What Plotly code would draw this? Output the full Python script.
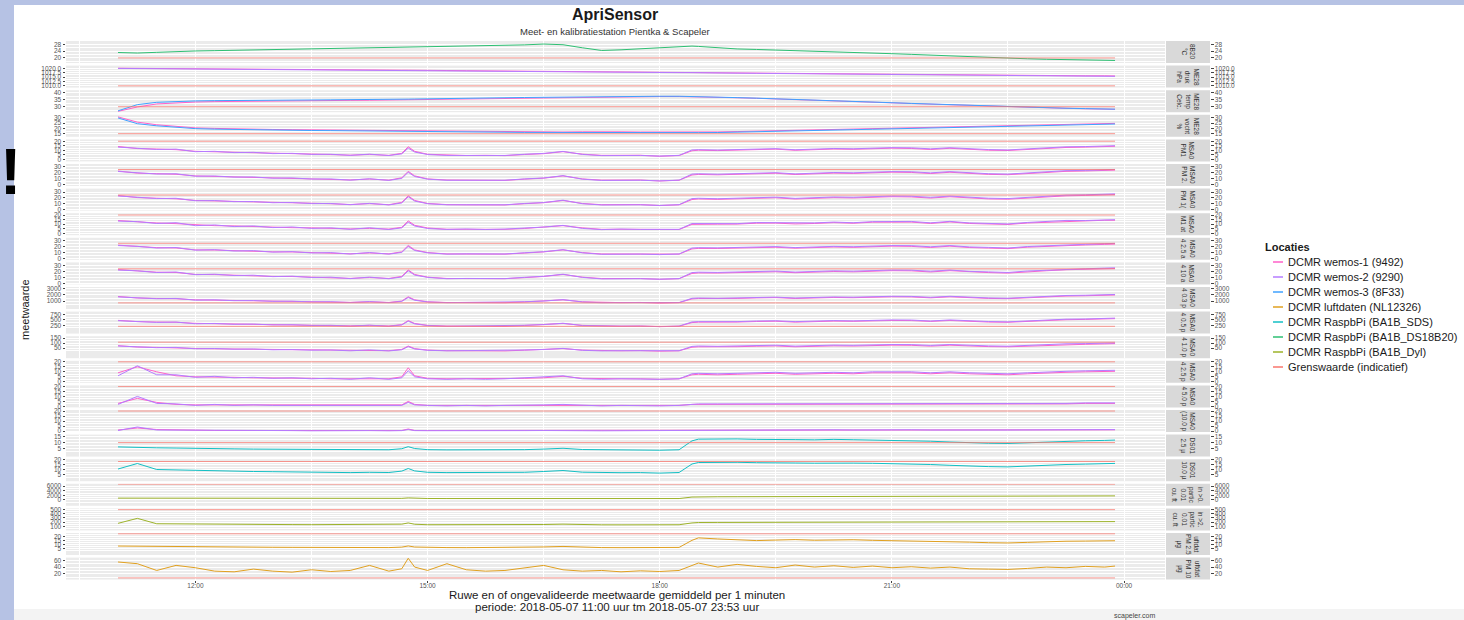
import plotly.graph_objects as go

W, H = 1464, 620

# ---------------- data ----------------
T_LABELS = [
    "11:00", "11:15", "11:30", "11:45", "12:00", "12:15", "12:30", "12:45", "13:00", "13:15", "13:30", "13:45", "14:00", "14:15",
    "14:30", "14:40", "14:45", "14:50", "15:00", "15:15", "15:30", "15:45", "16:00", "16:15", "16:30", "16:45", "17:00", "17:15",
    "17:30", "17:45", "18:00", "18:15", "18:25", "18:30", "18:45", "19:00", "19:15", "19:30", "19:45", "20:00", "20:15", "20:30",
    "20:45", "21:00", "21:15", "21:30", "21:45", "22:00", "22:15", "22:30", "22:45", "23:00", "23:15", "23:30", "23:45", "23:53"]
X = ["2018-05-07 " + t for t in T_LABELS]

X_TICKVALS = ["2018-05-07 12:00", "2018-05-07 15:00", "2018-05-07 18:00", "2018-05-07 21:00", "2018-05-08 00:00"]
X_TICKTEXT = ["12:00", "15:00", "18:00", "21:00", "00:00"]
X_MINOR = ["2018-05-07 10:30", "2018-05-07 13:30", "2018-05-07 16:30", "2018-05-07 19:30", "2018-05-07 22:30"]
X_RANGE = ["2018-05-07 10:19:40", "2018-05-08 00:31:45"]

DS18B20_TEMP = [
    23.2, 22.9, 23.3, 23.8, 24.1, 24.3, 24.5, 24.8, 25.0, 25.2, 25.3, 25.5, 25.6, 25.8,
    26.0, 26.1, 26.2, 26.2, 26.3, 26.5, 26.7, 27.0, 27.3, 27.7, 28.2, 27.8, 26.0, 24.4,
    24.8, 25.4, 26.1, 26.8, 27.0, 26.8, 25.9, 25.3, 25.0, 24.7, 24.4, 24.1, 23.7, 23.3,
    22.9, 22.5, 22.1, 21.6, 21.1, 20.6, 20.2, 19.8, 19.5, 19.2, 19.0, 18.8, 18.6, 18.5]

BME_DRUK_W1 = [
    1020.0, 1019.9, 1019.9, 1019.8, 1019.7, 1019.6, 1019.6, 1019.5, 1019.4, 1019.3, 1019.3, 1019.2, 1019.1, 1019.0,
    1018.9, 1018.9, 1018.9, 1018.8, 1018.8, 1018.7, 1018.6, 1018.5, 1018.5, 1018.4, 1018.3, 1018.2, 1018.1, 1018.0,
    1017.9, 1017.8, 1017.8, 1017.7, 1017.6, 1017.6, 1017.5, 1017.4, 1017.3, 1017.2, 1017.1, 1017.0, 1016.9, 1016.8,
    1016.7, 1016.6, 1016.5, 1016.4, 1016.3, 1016.2, 1016.1, 1016.0, 1015.9, 1015.9, 1015.8, 1015.7, 1015.7, 1015.6]
BME_DRUK_W2 = [
    1019.9, 1019.8, 1019.7, 1019.7, 1019.6, 1019.5, 1019.4, 1019.4, 1019.3, 1019.2, 1019.1, 1019.0, 1019.0, 1018.9,
    1018.8, 1018.7, 1018.7, 1018.7, 1018.6, 1018.5, 1018.5, 1018.4, 1018.3, 1018.2, 1018.1, 1018.0, 1018.0, 1017.9,
    1017.8, 1017.7, 1017.6, 1017.5, 1017.5, 1017.4, 1017.3, 1017.2, 1017.1, 1017.0, 1016.9, 1016.8, 1016.7, 1016.6,
    1016.5, 1016.4, 1016.3, 1016.2, 1016.1, 1016.0, 1015.9, 1015.8, 1015.8, 1015.7, 1015.6, 1015.6, 1015.5, 1015.4]

BME_TEMP_W1 = [
    26.6, 29.8, 32.0, 32.9, 33.4, 33.7, 33.9, 34.1, 34.2, 34.3, 34.4, 34.5, 34.6, 34.7,
    34.9, 35.0, 35.1, 35.2, 35.4, 35.6, 35.7, 36.0, 36.2, 36.4, 36.6, 36.7, 36.8, 36.8,
    37.0, 37.2, 37.4, 37.4, 37.3, 37.2, 36.9, 36.5, 36.1, 35.7, 35.3, 34.9, 34.5, 34.1,
    33.3, 32.8, 32.3, 31.8, 31.3, 30.8, 30.3, 29.9, 29.5, 29.1, 28.8, 28.5, 28.3, 28.1]
BME_TEMP_W3 = [
    27.0, 31.5, 33.2, 33.8, 34.2, 34.4, 34.6, 34.7, 34.8, 34.8, 34.9, 35.0, 35.0, 35.1,
    35.3, 35.4, 35.5, 35.6, 35.8, 35.9, 36.0, 36.3, 36.5, 36.7, 36.9, 37.0, 37.1, 37.0,
    37.3, 37.5, 37.6, 37.6, 37.5, 37.4, 37.0, 36.6, 36.2, 35.8, 35.4, 35.0, 34.6, 34.2,
    33.4, 32.9, 32.4, 31.9, 31.4, 30.9, 30.4, 30.0, 29.6, 29.2, 28.9, 28.6, 28.4, 28.2]

BME_VOCHT_W1 = [
    31.0, 26.0, 23.5, 22.0, 20.5, 20.0, 19.5, 19.2, 19.0, 18.8, 18.6, 18.5, 18.4, 18.2,
    18.0, 17.9, 17.9, 17.8, 17.7, 17.5, 17.4, 17.2, 17.0, 16.8, 16.7, 16.6, 16.8, 17.0,
    16.8, 16.6, 16.5, 16.5, 16.5, 16.6, 16.7, 17.0, 17.4, 17.8, 18.2, 18.6, 19.0, 19.4,
    19.8, 20.2, 20.6, 21.0, 21.4, 21.8, 22.2, 22.6, 23.0, 23.4, 23.8, 24.2, 24.6, 24.8]
BME_VOCHT_W3 = [
    30.0, 24.5, 22.5, 21.2, 19.8, 19.3, 18.9, 18.6, 18.4, 18.2, 18.0, 17.9, 17.8, 17.6,
    17.4, 17.3, 17.3, 17.2, 17.1, 16.9, 16.8, 16.6, 16.4, 16.2, 16.1, 16.0, 16.2, 16.4,
    16.2, 16.0, 15.9, 15.9, 15.9, 16.0, 16.1, 16.4, 16.8, 17.2, 17.6, 18.0, 18.4, 18.8,
    19.2, 19.6, 20.0, 20.4, 20.8, 21.2, 21.6, 22.0, 22.4, 22.8, 23.2, 23.6, 24.0, 24.2]

PMS_PM1_W1 = [
    14.3, 12.0, 11.5, 10.8, 9.0, 8.6, 8.0, 7.5, 6.8, 6.4, 5.9, 5.5, 4.8, 5.6,
    4.6, 6.8, 14.0, 9.0, 5.8, 4.7, 4.4, 4.6, 4.3, 5.5, 6.4, 8.6, 5.9, 4.6,
    4.4, 4.7, 3.6, 4.4, 9.6, 10.2, 9.8, 10.3, 10.9, 11.4, 10.1, 11.0, 11.5, 11.2,
    12.0, 12.4, 12.1, 11.0, 12.3, 11.0, 10.2, 9.9, 11.1, 12.3, 13.2, 13.6, 14.1, 14.5]
PMS_PM1_W2 = [
    13.6, 12.6, 11.0, 11.4, 8.6, 9.0, 7.6, 7.9, 6.5, 6.8, 5.6, 5.8, 4.6, 5.9,
    4.4, 6.2, 12.5, 8.2, 5.5, 4.5, 4.6, 4.4, 4.5, 5.8, 6.7, 8.9, 5.6, 4.3,
    4.5, 4.5, 3.8, 4.6, 10.5, 10.8, 10.4, 10.8, 11.6, 11.9, 10.7, 11.6, 12.1, 11.8,
    12.6, 13.0, 12.8, 11.7, 12.9, 11.6, 10.9, 10.5, 11.7, 12.9, 13.9, 14.2, 14.8, 15.1]

PMS_PM25_W1 = [
    22.5, 19.0, 18.2, 17.2, 14.5, 13.8, 13.0, 12.3, 11.2, 10.6, 9.8, 9.2, 7.9, 9.4,
    7.6, 11.4, 22.0, 14.6, 9.6, 7.8, 7.4, 7.7, 7.2, 9.2, 10.8, 14.5, 9.6, 7.6,
    7.3, 7.8, 6.2, 7.4, 16.0, 16.9, 16.3, 17.1, 18.2, 18.9, 16.8, 18.3, 19.1, 18.6,
    20.0, 20.6, 20.2, 18.4, 20.5, 18.3, 17.0, 16.5, 18.5, 20.5, 22.0, 22.6, 23.4, 24.0]
PMS_PM25_W2 = [
    21.8, 20.2, 17.6, 18.0, 14.0, 14.4, 12.6, 12.8, 10.8, 11.2, 9.4, 9.6, 7.6, 9.8,
    7.2, 10.4, 20.5, 13.5, 9.2, 7.4, 7.6, 7.3, 7.4, 9.6, 11.1, 14.9, 9.2, 7.1,
    7.4, 7.4, 6.4, 7.6, 17.5, 18.0, 17.3, 18.0, 19.3, 19.8, 17.8, 19.3, 20.1, 19.6,
    21.0, 21.6, 21.3, 19.5, 21.5, 19.3, 18.1, 17.5, 19.5, 21.5, 23.1, 23.6, 24.6, 25.1]

PMS_PM10_W1 = [
    24.0, 20.5, 19.4, 18.4, 15.5, 14.8, 13.9, 13.2, 12.0, 11.4, 10.5, 9.9, 8.5, 10.1,
    8.2, 12.2, 23.5, 15.6, 10.3, 8.4, 8.0, 8.3, 7.8, 9.9, 11.6, 15.5, 10.3, 8.2,
    7.9, 8.4, 6.7, 8.0, 17.1, 18.1, 17.4, 18.3, 19.5, 20.2, 18.0, 19.6, 20.4, 19.9,
    21.4, 22.0, 21.6, 19.7, 21.9, 19.6, 18.2, 17.7, 19.8, 21.9, 23.5, 24.2, 25.0, 25.7]
PMS_PM10_W2 = [
    23.3, 21.6, 18.8, 19.3, 15.0, 15.4, 13.5, 13.7, 11.6, 12.0, 10.1, 10.3, 8.2, 10.5,
    7.8, 11.2, 21.9, 14.5, 9.9, 8.0, 8.2, 7.9, 8.0, 10.3, 11.9, 16.0, 9.9, 7.7,
    8.0, 8.0, 6.9, 8.2, 18.7, 19.3, 18.5, 19.3, 20.6, 21.2, 19.1, 20.7, 21.5, 21.0,
    22.5, 23.1, 22.8, 20.9, 23.0, 20.7, 19.4, 18.8, 20.9, 23.0, 24.7, 25.3, 26.3, 26.9]

PMS_PM1ATM_W1 = [
    14.0, 12.3, 11.3, 10.6, 9.2, 8.4, 8.1, 7.3, 6.9, 6.2, 6.0, 5.3, 4.9, 5.4,
    4.7, 6.6, 13.6, 8.8, 5.9, 4.5, 4.5, 4.4, 4.4, 5.3, 6.5, 8.4, 6.0, 4.4,
    4.5, 4.5, 3.7, 4.2, 9.8, 10.0, 10.0, 10.1, 11.1, 11.2, 10.3, 10.8, 11.7, 11.0,
    12.2, 12.2, 12.3, 10.8, 12.5, 10.8, 10.4, 9.7, 11.3, 12.1, 13.4, 13.4, 14.3, 14.3]
PMS_PM1ATM_W2 = [
    13.4, 12.8, 10.8, 11.6, 8.4, 9.2, 7.4, 8.1, 6.3, 7.0, 5.4, 6.0, 4.4, 6.1,
    4.2, 6.0, 12.2, 8.0, 5.3, 4.3, 4.8, 4.2, 4.7, 5.6, 6.9, 8.7, 5.4, 4.1,
    4.7, 4.3, 4.0, 4.4, 10.7, 10.6, 10.6, 10.6, 11.8, 11.7, 10.9, 11.4, 12.3, 11.6,
    12.8, 12.8, 13.0, 11.5, 13.1, 11.4, 11.1, 10.3, 11.9, 12.7, 14.1, 14.0, 15.0, 14.9]

PMS_PM25ATM_W1 = [
    22.0, 19.4, 17.9, 17.4, 14.2, 14.0, 12.8, 12.5, 11.0, 10.8, 9.6, 9.4, 7.8, 9.2,
    7.7, 11.0, 21.5, 14.2, 9.8, 7.6, 7.5, 7.5, 7.3, 9.0, 10.9, 14.2, 9.8, 7.5,
    7.4, 7.6, 6.3, 7.3, 15.8, 16.6, 16.5, 16.8, 18.0, 18.6, 17.0, 18.0, 19.0, 18.4,
    19.8, 20.3, 20.0, 18.2, 20.3, 18.1, 17.2, 16.3, 18.7, 20.2, 21.8, 22.3, 23.2, 23.7]
PMS_PM25ATM_W2 = [
    21.3, 20.0, 17.3, 18.1, 13.8, 14.6, 12.4, 13.0, 10.6, 11.4, 9.2, 9.8, 7.5, 9.9,
    7.3, 10.1, 20.0, 13.2, 9.4, 7.3, 7.7, 7.2, 7.5, 9.5, 11.2, 14.6, 9.4, 7.0,
    7.5, 7.3, 6.5, 7.5, 17.2, 17.8, 17.5, 17.8, 19.1, 19.6, 18.0, 19.0, 20.0, 19.4,
    20.8, 21.3, 21.1, 19.3, 21.3, 19.1, 18.3, 17.3, 19.7, 21.2, 22.9, 23.3, 24.4, 24.8]

PMS_PM10ATM_W1 = [
    23.6, 20.8, 19.1, 18.6, 15.2, 15.0, 13.7, 13.4, 11.8, 11.6, 10.3, 10.1, 8.4, 9.9,
    8.3, 11.8, 23.0, 15.2, 10.5, 8.2, 8.1, 8.1, 7.9, 9.7, 11.7, 15.2, 10.5, 8.1,
    8.0, 8.2, 6.8, 7.9, 16.9, 17.8, 17.6, 18.0, 19.3, 19.9, 18.2, 19.3, 20.3, 19.7,
    21.2, 21.7, 21.4, 19.5, 21.7, 19.4, 18.4, 17.5, 20.0, 21.6, 23.3, 23.9, 24.8, 25.4]
PMS_PM10ATM_W2 = [
    22.8, 21.4, 18.5, 19.4, 14.8, 15.6, 13.3, 13.9, 11.4, 12.2, 9.9, 10.5, 8.0, 10.6,
    7.8, 10.8, 21.4, 14.1, 10.1, 7.8, 8.3, 7.7, 8.0, 10.2, 12.0, 15.6, 10.1, 7.5,
    8.0, 7.8, 7.0, 8.0, 18.4, 19.1, 18.7, 19.1, 20.4, 21.0, 19.3, 20.3, 21.4, 20.8,
    22.3, 22.8, 22.6, 20.7, 22.8, 20.5, 19.6, 18.6, 21.1, 22.7, 24.5, 25.0, 26.1, 26.6]

PMS_N03_W1 = [
    1750, 1500, 1420, 1380, 1200, 1150, 1100, 1050, 980, 940, 900, 860, 780, 880,
    770, 1000, 1700, 1200, 880, 760, 740, 760, 730, 860, 980, 1200, 880, 760,
    740, 770, 660, 740, 1350, 1420, 1380, 1430, 1520, 1570, 1420, 1520, 1590, 1550,
    1660, 1700, 1680, 1530, 1700, 1520, 1430, 1390, 1550, 1700, 1820, 1870, 1940, 1990]
PMS_N03_W2 = [
    1680, 1580, 1380, 1430, 1150, 1200, 1060, 1090, 950, 980, 870, 890, 760, 910,
    740, 940, 1580, 1130, 850, 740, 760, 740, 750, 890, 1000, 1230, 850, 730,
    750, 750, 680, 760, 1450, 1500, 1450, 1500, 1600, 1640, 1500, 1600, 1670, 1630,
    1740, 1780, 1760, 1610, 1780, 1600, 1510, 1460, 1630, 1780, 1910, 1950, 2030, 2080]

PMS_N05_W1 = [
    480, 420, 400, 390, 340, 325, 310, 295, 275, 265, 250, 240, 220, 245,
    215, 280, 470, 335, 245, 210, 205, 210, 200, 240, 275, 335, 245, 210,
    205, 215, 185, 205, 375, 395, 385, 400, 425, 440, 395, 425, 445, 435,
    465, 475, 470, 430, 475, 425, 400, 390, 435, 475, 510, 525, 545, 560]
PMS_N05_W2 = [
    465, 440, 385, 400, 320, 335, 295, 305, 265, 275, 240, 250, 212, 255,
    205, 265, 440, 315, 235, 205, 210, 205, 210, 250, 280, 345, 235, 205,
    210, 210, 190, 212, 405, 420, 405, 420, 450, 460, 420, 450, 470, 455,
    490, 500, 495, 450, 500, 450, 425, 410, 455, 500, 535, 545, 570, 585]

PMS_N10_W1 = [
    75, 62, 58, 56, 47, 44, 42, 40, 36, 34, 32, 30, 26, 31,
    25, 38, 72, 46, 31, 25, 24, 25, 23, 30, 36, 46, 31, 25,
    24, 26, 20, 24, 60, 64, 62, 65, 70, 73, 64, 70, 74, 72,
    78, 80, 79, 71, 80, 71, 66, 64, 72, 80, 86, 89, 93, 96]
PMS_N10_W2 = [
    72, 66, 55, 58, 44, 47, 40, 42, 34, 36, 30, 32, 24, 33,
    23, 34, 66, 42, 29, 24, 25, 24, 24, 32, 37, 48, 29, 23,
    25, 24, 21, 25, 68, 72, 69, 72, 77, 80, 71, 77, 81, 79,
    85, 87, 86, 78, 87, 78, 73, 70, 79, 87, 94, 96, 100, 103]

PMS_N25_W1 = [
    9, 15, 10, 6, 5, 5, 4.5, 4, 4, 3.5, 3.5, 3, 3, 3.5,
    3, 5, 14, 6, 3.5, 3, 3, 3, 3, 3.5, 4, 5.5, 3.5, 3,
    3, 3, 2.5, 3, 7, 7.5, 7, 7.5, 8, 8.5, 7.5, 8, 8.5, 8,
    9, 9, 9, 8, 9, 8, 7.5, 7, 8, 9, 9.5, 10, 10.5, 10.5]
PMS_N25_W2 = [
    6, 16, 7, 7, 4.5, 5.5, 4, 4.5, 3.5, 4, 3, 3.5, 2.5, 4,
    2.5, 4, 11, 5, 3, 2.5, 3, 2.5, 3, 4, 4.5, 6, 3, 2.5,
    3, 2.5, 2.5, 3, 8, 8.5, 8, 8.5, 9, 9.5, 8.5, 9, 9.5, 9,
    10, 10, 10, 9, 10, 9, 8.5, 8, 9, 10, 10.5, 11, 11.5, 11.5]

PMS_N50_W1 = [
    3, 8, 4, 2, 1.5, 1.5, 1.5, 1, 1, 1, 1, 1, 1, 1,
    1, 1.5, 5, 2, 1, 1, 1, 1, 1, 1, 1, 1.5, 1, 1,
    1, 1, 1, 1, 2, 2, 2, 2, 2, 2.5, 2, 2, 2.5, 2,
    2.5, 2.5, 2.5, 2, 2.5, 2, 2, 2, 2, 2.5, 2.5, 3, 3, 3]
PMS_N50_W2 = [
    2, 10, 3, 2.5, 1, 2, 1, 1.5, 1, 1, 0.5, 1, 0.5, 1,
    0.5, 1, 4, 1.5, 1, 0.5, 1, 0.5, 1, 1, 1.5, 2, 1, 0.5,
    1, 0.5, 0.5, 1, 2.5, 2.5, 2.5, 2.5, 2.5, 3, 2.5, 2.5, 3, 2.5,
    3, 3, 3, 2.5, 3, 2.5, 2.5, 2.5, 2.5, 3, 3, 3.5, 3.5, 3.5]

PMS_N100_W1 = [
    1, 3, 1.5, 1, 0.5, 0.5, 0.5, 0.5, 0.5, 0.5, 0.5, 0.5, 0.5, 0.5,
    0.5, 0.5, 2, 0.5, 0.5, 0.5, 0.5, 0.5, 0.5, 0.5, 0.5, 0.5, 0.5, 0.5,
    0.5, 0.5, 0.5, 0.5, 0.8, 0.8, 0.8, 0.8, 1, 1, 0.8, 0.8, 1, 0.8,
    1, 1, 1, 0.8, 1, 0.8, 0.8, 0.8, 0.8, 1, 1, 1.2, 1.2, 1.2]
PMS_N100_W2 = [
    0.5, 4, 1, 1, 0.3, 0.6, 0.3, 0.5, 0.3, 0.4, 0.2, 0.4, 0.2, 0.4,
    0.2, 0.4, 1.5, 0.4, 0.3, 0.2, 0.3, 0.2, 0.3, 0.4, 0.5, 0.7, 0.3, 0.2,
    0.3, 0.2, 0.2, 0.3, 1, 1, 1, 1, 1.2, 1.2, 1, 1, 1.2, 1,
    1.2, 1.2, 1.2, 1, 1.2, 1, 1, 1, 1, 1.2, 1.2, 1.4, 1.4, 1.4]

SDS_PM25 = [
    6.2, 5.6, 5.4, 5.2, 4.8, 4.6, 4.5, 4.3, 4.2, 4.0, 3.9, 3.8, 3.6, 3.8,
    3.7, 4.6, 6.4, 4.8, 3.8, 3.6, 3.5, 3.6, 3.5, 3.8, 4.3, 5.0, 3.9, 3.6,
    3.5, 3.6, 3.3, 3.7, 11.5, 13.0, 13.4, 13.2, 12.8, 13.0, 12.6, 12.4, 12.8, 12.5,
    12.3, 12.0, 11.8, 11.2, 10.5, 9.8, 9.4, 9.2, 9.8, 10.8, 11.2, 11.6, 11.9, 12.2]
SDS_PM10 = [
    10.5, 16.0, 10.0, 9.5, 8.8, 8.6, 8.3, 8.0, 7.8, 7.5, 7.3, 7.2, 6.9, 7.2,
    7.0, 8.4, 11.0, 8.6, 7.2, 6.9, 6.8, 6.9, 6.7, 7.2, 8.0, 9.0, 7.3, 6.9,
    6.8, 6.9, 6.4, 7.0, 15.5, 17.0, 17.4, 17.2, 16.8, 17.0, 16.5, 16.3, 16.7, 16.4,
    16.2, 15.9, 15.7, 15.0, 14.2, 13.4, 12.9, 12.6, 13.4, 14.6, 15.0, 15.4, 15.8, 16.1]

DYLOS_SMALL = [
    800, 780, 760, 740, 720, 700, 690, 680, 670, 660, 650, 640, 620, 640,
    630, 700, 900, 720, 640, 620, 610, 620, 600, 640, 680, 740, 640, 610,
    600, 610, 580, 620, 1250, 1350, 1380, 1400, 1420, 1450, 1420, 1450, 1480, 1460,
    1500, 1520, 1530, 1480, 1520, 1480, 1450, 1430, 1500, 1560, 1620, 1680, 1720, 1760]
DYLOS_LARGE = [
    170, 290, 160, 155, 150, 148, 146, 144, 142, 140, 138, 137, 135, 137,
    136, 150, 180, 148, 137, 135, 134, 135, 133, 137, 142, 150, 138, 135,
    134, 135, 132, 136, 180, 190, 192, 193, 194, 196, 194, 196, 198, 197,
    199, 200, 201, 198, 200, 197, 195, 194, 198, 202, 205, 208, 210, 212]

LUFTDATEN_PM25 = [
    8.5, 8.2, 8.0, 7.8, 7.6, 7.5, 7.4, 7.2, 7.0, 6.9, 6.8, 6.7, 6.5, 6.8,
    6.6, 7.2, 8.6, 7.3, 6.8, 6.6, 6.5, 6.7, 6.4, 6.9, 7.4, 8.0, 6.9, 6.6,
    6.5, 6.6, 6.2, 6.8, 15.5, 18.5, 17.2, 16.0, 15.2, 15.8, 16.4, 15.6, 15.9, 16.2,
    15.5, 15.1, 15.4, 14.9, 14.2, 13.3, 12.6, 12.3, 13.0, 14.0, 14.4, 14.6, 14.8, 15.0]
LUFTDATEN_PM10 = [
    55, 50, 30, 45, 38, 28, 26, 34, 28, 25, 32, 27, 30, 45,
    28, 35, 66, 40, 30, 50, 32, 28, 30, 38, 45, 32, 28, 30,
    26, 29, 27, 30, 45, 52, 40, 48, 42, 38, 46, 40, 44, 39,
    43, 38, 41, 37, 40, 35, 34, 33, 36, 40, 38, 42, 40, 43]

STRIP_LABELS = [
    "8B20<br>°C", "ME28<br>druk<br>hPa", "ME28<br>temp<br>Celc.", "ME28<br>vocht<br>%",
    "MSA0<br>PM1", "MSA0<br>PM 2.", "MSA0<br>PM 1(", "MSA0<br>M1 at", "MSA0<br>4 2.5 a", "MSA0<br>4 10 a",
    "MSA0<br>4 0.3 p", "MSA0<br>4 0.5 p", "MSA0<br>4 1.0 p", "MSA0<br>4 2.5 p", "MSA0<br>4 5.0 p", "MSA0<br>(10.0 p",
    "DS01<br>2.5 µ", "DS01<br>10.0 µ", "in >0.<br>partic<br>0.01<br>cu. ft", "in >2.<br>partic<br>0.01<br>cu. ft",
    "uftdat<br>PM 2.5<br>µg", "uftdat<br>PM 10<br>µg"]

Y_TICKS = [
    [20, 24, 28], [1010, 1012.5, 1015, 1017.5, 1020], [30, 35, 40], [15, 20, 25, 30],
    [0, 5, 10, 15, 20], [0, 10, 20, 30], [0, 10, 20, 30], [0, 5, 10, 15, 20], [0, 10, 20, 30], [0, 10, 20, 30],
    [1000, 2000, 3000], [250, 500, 750], [50, 100, 150], [0, 5, 10, 15, 20], [0, 5, 10, 15, 20], [0, 5, 10, 15, 20],
    [5, 10, 15], [5, 10, 15, 20], [0, 2000, 4000, 6000], [100, 200, 300, 400, 500],
    [5, 10, 15, 20], [20, 40, 60]]

Y_RANGES = [
    [17, 30], [1009, 1021.5], [26, 42], [12, 33],
    [-2, 22], [-2, 34], [-2, 36], [-2, 22], [-2, 34], [-2, 36],
    [-300, 3300], [-140, 890], [-50, 170], [-1, 21], [-1, 21], [-1, 21],
    [-2.3, 17], [-1.7, 20.3], [-2500, 6950], [0, 530],
    [-2.5, 24.5], [3, 68]]

LIMITS = [20, 1010, 30, 15, 20, 25, 25, 20, 25, 25, 700, 200, 110, 20, 20, 20, 10, 18, 6800, 500, 23.5, 8]

ROW_SERIES = [
    [("ds", DS18B20_TEMP)],
    [("w1", BME_DRUK_W1), ("w2", BME_DRUK_W2)],
    [("w1", BME_TEMP_W1), ("w3", BME_TEMP_W3)],
    [("w1", BME_VOCHT_W1), ("w3", BME_VOCHT_W3)],
    [("w1", PMS_PM1_W1), ("w2", PMS_PM1_W2)],
    [("w1", PMS_PM25_W1), ("w2", PMS_PM25_W2)],
    [("w1", PMS_PM10_W1), ("w2", PMS_PM10_W2)],
    [("w1", PMS_PM1ATM_W1), ("w2", PMS_PM1ATM_W2)],
    [("w1", PMS_PM25ATM_W1), ("w2", PMS_PM25ATM_W2)],
    [("w1", PMS_PM10ATM_W1), ("w2", PMS_PM10ATM_W2)],
    [("w1", PMS_N03_W1), ("w2", PMS_N03_W2)],
    [("w1", PMS_N05_W1), ("w2", PMS_N05_W2)],
    [("w1", PMS_N10_W1), ("w2", PMS_N10_W2)],
    [("w1", PMS_N25_W1), ("w2", PMS_N25_W2)],
    [("w1", PMS_N50_W1), ("w2", PMS_N50_W2)],
    [("w1", PMS_N100_W1), ("w2", PMS_N100_W2)],
    [("sds", SDS_PM25)],
    [("sds", SDS_PM10)],
    [("dyl", DYLOS_SMALL)],
    [("dyl", DYLOS_LARGE)],
    [("lu", LUFTDATEN_PM25)],
    [("lu", LUFTDATEN_PM10)],
]

LEGEND_TITLE = "Locaties"
LEGEND_KEYS = ["w1", "w2", "w3", "lu", "sds", "ds", "dyl", "lim"]
SERIES_INFO = {
    "w1": ("DCMR wemos-1 (9492)", "#FF61C9"),
    "w2": ("DCMR wemos-2 (9290)", "#B47CFF"),
    "w3": ("DCMR wemos-3 (8F33)", "#3FA2FF"),
    "lu": ("DCMR luftdaten (NL12326)", "#E0A020"),
    "sds": ("DCMR RaspbPi (BA1B_SDS)", "#13BFC4"),
    "ds": ("DCMR RaspbPi (BA1B_DS18B20)", "#2EBF73"),
    "dyl": ("DCMR RaspbPi (BA1B_Dyl)", "#9DB32A"),
    "lim": ("Grenswaarde (indicatief)", "#F8766D"),
}

# ---------------- layout geometry ----------------
NROW = len(ROW_SERIES)
PX_L, PX_R = 66, 1165
STRIP_L, STRIP_R = 1166, 1210
TOP0, STEP, PH = 41, 24.6, 22
FONT = "Liberation Sans, Arial, sans-serif"
TICKFONT = dict(family=FONT, size=6.5, color="#555555")


def px(x, y):
    return x / W, 1 - y / H


def fmt_ticks(ticks):
    if any(abs(t - round(t)) > 1e-9 for t in ticks):
        return [f"{t:.1f}" for t in ticks]
    return [str(int(round(t))) for t in ticks]


def minor_vals(ticks, rng):
    if len(ticks) < 2:
        return []
    step = ticks[1] - ticks[0]
    out = []
    v = ticks[0] - step / 2
    while v <= rng[1]:
        if v >= rng[0]:
            out.append(v)
        v += step
    return out


fig = go.Figure()
layout = {}
annotations = []
shapes = []

for i in range(NROW):
    n = i + 1
    xa = "x" if n == 1 else f"x{n}"
    ya = "y" if n == 1 else f"y{n}"
    yr = f"y{n + NROW}"
    top = TOP0 + i * STEP
    bot = top + PH
    dom = [1 - bot / H, 1 - top / H]
    rng = Y_RANGES[i]
    ticks = Y_TICKS[i]
    ttext = fmt_ticks(ticks)

    xkey = "xaxis" if n == 1 else f"xaxis{n}"
    layout[xkey] = dict(
        domain=[PX_L / W, PX_R / W], anchor=ya, type="date", range=X_RANGE,
        tickmode="array", tickvals=X_TICKVALS, ticktext=X_TICKTEXT,
        showticklabels=(n == NROW), ticks="outside" if n == NROW else "",
        ticklen=2, tickwidth=0.8, tickcolor="#444444", tickfont=TICKFONT,
        ticklabelstandoff=-2,
        showgrid=True, gridcolor="white", gridwidth=1, zeroline=False, showline=False,
        minor=dict(tickvals=X_MINOR, showgrid=True, gridcolor="white", gridwidth=0.5, ticks=""),
        automargin=False, fixedrange=True,
    )
    if n > 1:
        layout[xkey]["matches"] = "x"

    ykey = "yaxis" if n == 1 else f"yaxis{n}"
    common_y = dict(
        range=rng, tickmode="array", tickvals=ticks, ticktext=ttext,
        ticks="outside", ticklen=2.5, tickwidth=0.8, tickcolor="#444444", tickfont=TICKFONT,
        zeroline=False, showline=False, automargin=False, fixedrange=True,
    )
    layout[ykey] = dict(
        domain=dom, anchor=xa, showgrid=True, gridcolor="white", gridwidth=1,
        minor=dict(tickvals=minor_vals(ticks, rng), showgrid=True, gridcolor="white", gridwidth=0.5, ticks=""),
        **common_y,
    )
    layout[f"yaxis{n + NROW}"] = dict(
        overlaying=ya, side="right", anchor="free", position=STRIP_R / W,
        showgrid=False, **common_y,
    )

    for key, vals in ROW_SERIES[i]:
        label, color = SERIES_INFO[key]
        fig.add_trace(go.Scatter(
            x=X, y=vals, mode="lines", name=label, line=dict(color=color, width=1),
            showlegend=False, xaxis=xa, yaxis=ya, hoverinfo="skip"))

    fig.add_trace(go.Scatter(
        x=[X[0], X[-1]], y=[LIMITS[i], LIMITS[i]], mode="lines", name=SERIES_INFO["lim"][0],
        line=dict(color=SERIES_INFO["lim"][1], width=1), opacity=0.75,
        showlegend=False, xaxis=xa, yaxis=yr, hoverinfo="skip"))

    shapes.append(dict(type="rect", xref="paper", yref="paper",
                       x0=STRIP_L / W, x1=STRIP_R / W, y0=dom[0], y1=dom[1],
                       fillcolor="#D9D9D9", line=dict(width=0), layer="below"))
    annotations.append(dict(text=STRIP_LABELS[i], x=(STRIP_L + STRIP_R) / 2 / W, y=(dom[0] + dom[1]) / 2,
                            textangle=90, font=dict(family=FONT, size=6.5, color="#333333")))

# legend (drawn compactly like the ggplot guide)
LEG_X, LEG_Y0, LEG_DY = 1263, 262, 15
annotations.append(dict(text=f"<b>{LEGEND_TITLE}</b>", x=LEG_X / W, y=1 - 247 / H, xanchor="left",
                        font=dict(family=FONT, size=11, color="#1a1a1a")))
for k, key in enumerate(LEGEND_KEYS):
    label, color = SERIES_INFO[key]
    yy = 1 - (LEG_Y0 + k * LEG_DY) / H
    shapes.append(dict(type="line", xref="paper", yref="paper", x0=1273 / W, x1=1283 / W, y0=yy, y1=yy,
                       line=dict(color=color, width=1.5)))
    annotations.append(dict(text=label, x=1286 / W, y=yy, xanchor="left",
                            font=dict(family=FONT, size=11, color="#1a1a1a")))

# frame decorations (slide background)
BLUE = "#B6C2E4"
shapes.append(dict(type="rect", xref="paper", yref="paper", x0=0, x1=14 / W, y0=0, y1=1,
                   fillcolor=BLUE, line=dict(width=0), layer="below"))
shapes.append(dict(type="rect", xref="paper", yref="paper", x0=0, x1=1, y0=1 - 5 / H, y1=1,
                   fillcolor=BLUE, line=dict(width=0), layer="below"))
shapes.append(dict(type="rect", xref="paper", yref="paper", x0=14 / W, x1=1, y0=0, y1=1 - 609 / H,
                   fillcolor="#F3F3F3", line=dict(width=0), layer="below"))

annotations += [
    dict(text="<b>ApriSensor</b>", x=615 / W, y=1 - 15 / H, font=dict(family=FONT, size=16, color="#1a1a1a")),
    dict(text="Meet- en kalibratiestation Pientka & Scapeler", x=615 / W, y=1 - 31 / H,
         font=dict(family=FONT, size=9.5, color="#333333")),
    dict(text="meetwaarde", x=25 / W, y=1 - 310 / H, textangle=-90, font=dict(family=FONT, size=11, color="#1a1a1a")),
    dict(text="Ruwe en of ongevalideerde meetwaarde gemiddeld per 1 minuten", x=617 / W, y=1 - 595 / H,
         font=dict(family=FONT, size=11.5, color="#1a1a1a")),
    dict(text="periode: 2018-05-07 11:00 uur tm 2018-05-07 23:53 uur", x=617 / W, y=1 - 606.5 / H,
         font=dict(family=FONT, size=11.5, color="#1a1a1a")),
    dict(text="scapeler.com", x=1134 / W, y=1 - 616 / H, font=dict(family=FONT, size=7, color="#444444")),
    dict(text="<b>!</b>", x=10 / W, y=1 - 172 / H, font=dict(family=FONT, size=64, color="#000000")),
]
for a in annotations:
    a.setdefault("xref", "paper")
    a.setdefault("yref", "paper")
    a.setdefault("showarrow", False)
    a.setdefault("xanchor", "center")
    a.setdefault("yanchor", "middle")

fig.update_layout(
    **layout,
    width=W, height=H,
    margin=dict(l=0, r=0, t=0, b=0, autoexpand=False),
    paper_bgcolor="white", plot_bgcolor="#EBEBEB",
    font=dict(family=FONT, size=10, color="#1a1a1a"),
    showlegend=False,
    annotations=annotations, shapes=shapes,
    hovermode=False,
)

fig.write_html("out.html")
